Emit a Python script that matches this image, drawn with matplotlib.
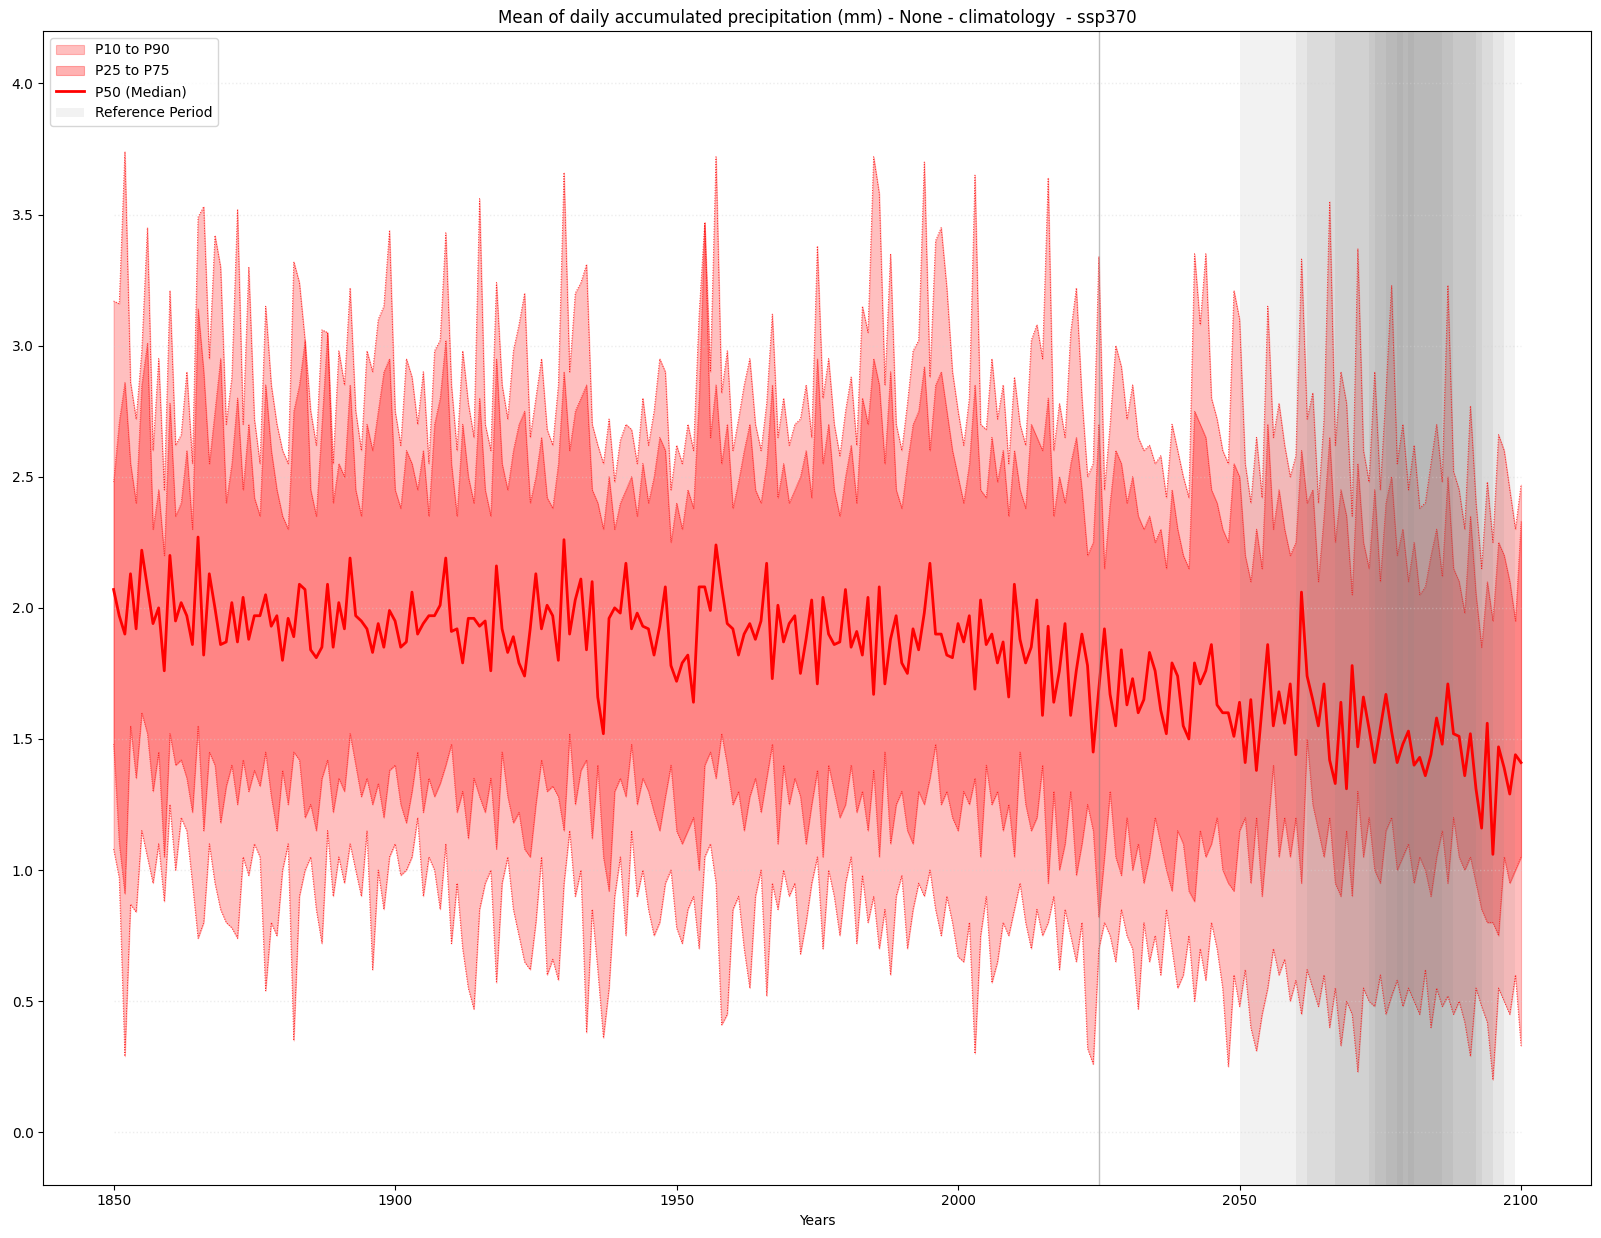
import matplotlib.pyplot as plt
import numpy as np

years = np.arange(1850, 2101)

# median
p50 = [
    2.07, 1.97, 1.90, 2.13, 1.92, 2.22, 2.08, 1.94, 2.00, 1.76,
    2.20, 1.95, 2.02, 1.97, 1.86, 2.27, 1.82, 2.13, 2.00, 1.86,
    1.87, 2.02, 1.87, 2.04, 1.88, 1.97, 1.97, 2.05, 1.93, 1.97,
    1.80, 1.96, 1.89, 2.09, 2.07, 1.84, 1.81, 1.85, 2.09, 1.85,
    2.02, 1.92, 2.19, 1.97, 1.95, 1.92, 1.83, 1.94, 1.85, 1.99,
    1.95, 1.85, 1.87, 2.06, 1.90, 1.94, 1.97, 1.97, 2.01, 2.19,
    1.91, 1.92, 1.79, 1.96, 1.96, 1.93, 1.95, 1.76, 2.16, 1.92,
    1.83, 1.89, 1.79, 1.74, 1.92, 2.13, 1.92, 2.01, 1.97, 1.80,
    2.26, 1.90, 2.03, 2.11, 1.84, 2.10, 1.66, 1.52, 1.96, 2.00,
    1.98, 2.17, 1.92, 1.98, 1.93, 1.92, 1.82, 1.93, 2.08,
    1.78, 1.72, 1.79, 1.82, 1.64, 2.08, 2.08, 1.99, 2.24, 2.08,
    1.94, 1.92, 1.82, 1.90, 1.94, 1.88, 1.95, 2.17, 1.73, 2.01,
    1.87, 1.94, 1.97, 1.75, 1.88, 2.03, 1.71, 2.04, 1.90, 1.86,
    1.87, 2.07, 1.85, 1.91, 1.82, 2.04, 1.67, 2.08, 1.71, 1.88,
    1.97, 1.79, 1.75, 1.92, 1.84, 1.98, 2.17, 1.90, 1.90,
    1.82, 1.81, 1.94, 1.87, 1.97, 1.69, 2.03, 1.86, 1.90, 1.79,
    1.87, 1.66, 2.09, 1.88, 1.79, 1.85, 2.03, 1.59, 1.93, 1.64,
    1.76, 1.94, 1.59, 1.76, 1.90, 1.78, 1.45, 1.69, 1.92, 1.67,
    1.55, 1.84, 1.63, 1.73, 1.60, 1.65, 1.83, 1.76, 1.61, 1.52,
    1.79, 1.74, 1.55, 1.50, 1.79, 1.71, 1.76, 1.86,
    1.63, 1.60, 1.60, 1.51, 1.64, 1.41, 1.65, 1.38, 1.62, 1.86,
    1.55, 1.68, 1.56, 1.71, 1.44, 2.06, 1.74, 1.65, 1.55, 1.71,
    1.42, 1.33, 1.64, 1.31, 1.78, 1.47, 1.66, 1.54, 1.41, 1.54,
    1.67, 1.53, 1.41, 1.48, 1.53, 1.40, 1.43, 1.36, 1.44, 1.58,
    1.48, 1.71, 1.52, 1.51, 1.36, 1.52, 1.31, 1.16, 1.56, 1.06,
    1.47, 1.39, 1.29, 1.44, 1.41,
]

p90 = [
    3.17, 3.16, 3.74, 2.86, 2.72, 2.98, 3.45, 2.60, 2.95, 2.45,
    3.21, 2.62, 2.66, 2.90, 2.55, 3.49, 3.53, 2.95, 3.42, 3.30,
    2.70, 2.88, 3.52, 2.70, 3.30, 2.72, 2.55, 3.15, 2.85, 2.70,
    2.60, 2.55, 3.32, 3.24, 3.02, 2.75, 2.62, 3.06, 3.05, 2.55,
    2.98, 2.85, 3.22, 2.75, 2.60, 2.98, 2.90, 3.10, 3.15, 3.44,
    2.75, 2.62, 2.95, 2.88, 2.70, 2.90, 2.55, 2.98, 3.02, 3.43,
    2.85, 2.60, 2.98, 2.78, 2.65, 3.56, 2.70, 2.60, 3.24, 2.85,
    2.72, 2.98, 3.08, 3.20, 2.65, 2.80, 2.95, 2.68, 2.62, 2.85,
    3.66, 2.90, 3.20, 3.24, 3.31, 2.70, 2.62, 2.55, 2.72, 2.48,
    2.64, 2.70, 2.68, 2.55, 2.80, 2.62, 2.75, 2.95, 2.90, 2.45,
    2.62, 2.55, 2.70, 2.60, 3.12, 3.47, 2.90, 3.72, 2.82, 2.98,
    2.60, 2.72, 2.85, 2.95, 2.70, 2.60, 2.78, 3.12, 2.65, 2.80,
    2.62, 2.70, 2.72, 2.85, 2.65, 3.38, 2.80, 2.95, 2.70, 2.58,
    2.75, 2.88, 2.62, 3.15, 3.05, 3.72, 3.58, 2.85, 3.35, 2.70,
    2.60, 2.78, 2.98, 3.02, 3.70, 2.88, 3.40, 3.45, 3.22, 2.90,
    2.75, 2.62, 2.80, 3.65, 2.70, 2.68, 2.95, 2.72, 2.85, 2.55,
    2.88, 2.70, 2.62, 3.02, 3.08, 2.95, 3.64, 2.60, 2.78, 2.65,
    3.05, 3.22, 2.80, 2.50, 2.55, 3.34, 2.45, 2.70, 3.00, 2.92,
    2.72, 2.85, 2.65, 2.60, 2.62, 2.55, 2.58, 2.42, 2.70, 2.60,
    2.50, 2.42, 3.35, 3.08, 3.35, 2.80, 2.72, 2.60, 2.55, 3.21,
    3.10, 2.55, 2.40, 2.65, 2.42, 3.15, 2.65, 2.78, 2.62, 2.50,
    2.58, 3.33, 2.72, 2.82, 2.40, 2.72, 3.55, 2.62, 2.90, 2.78,
    2.35, 3.37, 2.60, 2.48, 2.90, 2.45, 2.82, 3.23, 2.55, 2.70,
    2.45, 2.62, 2.38, 2.40, 2.55, 2.70, 2.48, 3.23, 2.52, 2.45,
    2.30, 2.77, 2.40, 2.15, 2.48, 2.25, 2.66, 2.60, 2.45, 2.30,
    2.47,
]

p75 = [
    2.48, 2.71, 2.86, 2.55, 2.40, 2.85, 3.01, 2.30, 2.45, 2.20,
    2.78, 2.35, 2.40, 2.60, 2.30, 3.14, 2.90, 2.55, 2.75, 2.95,
    2.40, 2.55, 2.80, 2.45, 2.70, 2.42, 2.35, 2.85, 2.60, 2.45,
    2.35, 2.30, 2.75, 2.85, 3.02, 2.45, 2.35, 2.70, 3.05, 2.40,
    2.55, 2.50, 2.85, 2.45, 2.35, 2.70, 2.60, 2.75, 2.90, 2.95,
    2.45, 2.38, 2.60, 2.55, 2.45, 2.60, 2.35, 2.70, 2.80, 3.02,
    2.55, 2.35, 2.70, 2.50, 2.40, 2.80, 2.45, 2.35, 2.95, 2.55,
    2.45, 2.60, 2.70, 2.75, 2.40, 2.50, 2.65, 2.42, 2.38, 2.55,
    2.90, 2.60, 2.75, 2.80, 2.85, 2.45, 2.40, 2.30, 2.50, 2.30,
    2.40, 2.45, 2.50, 2.35, 2.55, 2.40, 2.50, 2.65, 2.60, 2.25,
    2.40, 2.30, 2.45, 2.38, 2.80, 3.47, 2.65, 2.85, 2.55, 2.70,
    2.38, 2.48, 2.60, 2.70, 2.45, 2.40, 2.55, 2.85, 2.42, 2.55,
    2.40, 2.45, 2.50, 2.60, 2.42, 2.95, 2.55, 2.70, 2.45, 2.35,
    2.50, 2.62, 2.40, 2.80, 2.70, 2.95, 2.85, 2.55, 2.90, 2.45,
    2.38, 2.55, 2.70, 2.75, 2.92, 2.60, 2.85, 2.90, 2.75, 2.60,
    2.50, 2.40, 2.55, 2.85, 2.45, 2.42, 2.65, 2.48, 2.60, 2.35,
    2.60, 2.45, 2.38, 2.70, 2.65, 2.60, 2.80, 2.35, 2.50, 2.40,
    2.55, 2.65, 2.45, 2.20, 2.25, 2.70, 2.15, 2.40, 2.60, 2.55,
    2.40, 2.50, 2.35, 2.30, 2.35, 2.25, 2.30, 2.15, 2.45, 2.30,
    2.20, 2.15, 2.75, 2.70, 2.65, 2.45, 2.40, 2.30, 2.25, 2.55,
    2.50, 2.20, 2.10, 2.30, 2.15, 2.70, 2.30, 2.45, 2.30, 2.20,
    2.25, 2.60, 2.40, 2.45, 2.10, 2.35, 2.65, 2.25, 2.45, 2.35,
    2.05, 2.55, 2.25, 2.15, 2.45, 2.10, 2.40, 2.50, 2.20, 2.30,
    2.10, 2.25, 2.05, 2.08, 2.20, 2.30, 2.12, 2.50, 2.15, 2.10,
    1.98, 2.35, 2.05, 1.85, 2.10, 1.95, 2.25, 2.20, 2.10, 1.95,
    2.33,
]

p25 = [
    1.48, 1.10, 0.91, 1.55, 1.35, 1.60, 1.52, 1.30, 1.45, 1.05,
    1.52, 1.40, 1.42, 1.35, 1.22, 1.55, 1.15, 1.45, 1.40, 1.18,
    1.32, 1.40, 1.25, 1.42, 1.30, 1.38, 1.32, 1.45, 1.28, 1.15,
    1.38, 1.25, 1.45, 1.42, 1.20, 1.25, 1.15, 1.35, 1.42, 1.22,
    1.35, 1.30, 1.52, 1.40, 1.28, 1.35, 1.25, 1.33, 1.20, 1.38,
    1.40, 1.25, 1.18, 1.30, 1.45, 1.22, 1.35, 1.28, 1.33, 1.40,
    1.48, 1.22, 1.30, 1.12, 1.35, 1.28, 1.22, 1.35, 1.08, 1.45,
    1.28, 1.18, 1.22, 1.08, 1.05, 1.25, 1.42, 1.30, 1.32, 1.28,
    1.15, 1.52, 1.25, 1.38, 1.42, 1.12, 1.40, 1.05, 0.92, 1.30,
    1.35, 1.28, 1.48, 1.25, 1.35, 1.30, 1.22, 1.15, 1.28, 1.40,
    1.15, 1.10, 1.15, 1.20, 1.00, 1.40, 1.45, 1.35, 1.52, 1.40,
    1.25, 1.30, 1.15, 1.28, 1.35, 1.22, 1.35, 1.48, 1.10, 1.40,
    1.25, 1.35, 1.28, 1.10, 1.25, 1.38, 1.05, 1.40, 1.30, 1.20,
    1.25, 1.40, 1.22, 1.30, 1.15, 1.38, 1.05, 1.45, 1.10, 1.25,
    1.30, 1.15, 1.10, 1.30, 1.25, 1.35, 1.48, 1.25, 1.30, 1.20,
    1.15, 1.30, 1.25, 1.35, 1.05, 1.40, 1.25, 1.30, 1.15, 1.25,
    1.05, 1.45, 1.25, 1.15, 1.20, 1.40, 0.95, 1.30, 1.00, 1.10,
    1.30, 0.98, 1.10, 1.25, 1.15, 0.82, 1.05, 1.30, 1.05, 0.98,
    1.20, 1.00, 1.10, 0.95, 1.05, 1.20, 1.10, 1.00, 0.92, 1.15,
    1.10, 0.92, 0.88, 1.15, 1.05, 1.10, 1.20, 1.00, 0.95, 0.92,
    1.15, 1.20, 0.95, 1.20, 0.90, 1.15, 1.40, 1.05, 1.20, 1.05,
    1.20, 0.95, 1.50, 1.25, 1.15, 1.05, 1.20, 0.95, 0.90, 1.15,
    0.90, 1.30, 1.05, 1.20, 1.00, 0.95, 1.15, 1.20, 1.00, 1.05,
    1.10, 0.95, 1.05, 1.00, 0.90, 1.05, 1.15, 0.95, 1.20, 1.05,
    1.00, 1.05, 0.95, 0.85, 0.80, 0.80, 0.75, 1.05, 0.95, 1.00,
    1.05,
]

p10 = [
    1.08, 0.97, 0.29, 0.87, 0.84, 1.15, 1.05, 0.95, 1.10, 0.88,
    1.25, 1.00, 1.20, 1.15, 0.95, 0.74, 0.80, 1.10, 0.95, 0.85,
    0.80, 0.78, 0.74, 1.05, 0.98, 1.10, 1.05, 0.54, 0.80, 0.75,
    1.00, 1.10, 0.35, 0.90, 1.00, 1.05, 0.85, 0.72, 1.15, 0.90,
    1.05, 0.95, 1.10, 1.00, 0.90, 1.15, 0.62, 1.00, 0.85, 1.05,
    1.10, 0.98, 1.00, 1.05, 1.20, 0.90, 1.05, 1.00, 0.85, 1.10,
    0.72, 0.95, 0.70, 0.55, 0.47, 0.85, 0.95, 1.00, 0.57, 0.95,
    1.05, 0.85, 0.75, 0.65, 0.62, 0.80, 1.05, 0.60, 0.66, 0.58,
    0.95, 1.15, 0.90, 1.00, 0.38, 0.85, 0.62, 0.36, 0.55, 0.90,
    1.05, 0.75, 1.15, 0.90, 1.00, 0.85, 0.75, 0.80, 0.95, 1.00,
    0.78, 0.72, 0.85, 0.90, 0.70, 1.05, 1.10, 0.95, 0.41, 0.45,
    0.85, 0.90, 0.70, 0.55, 0.90, 1.00, 0.52, 0.95, 0.85, 1.00,
    0.90, 0.95, 0.68, 0.80, 0.95, 1.05, 0.70, 1.00, 0.90, 0.75,
    0.95, 1.05, 0.72, 0.98, 0.80, 0.90, 0.70, 0.85, 0.60, 0.90,
    0.98, 0.70, 0.85, 0.95, 0.90, 1.00, 0.85, 0.75, 0.90, 0.80,
    0.67, 0.65, 0.80, 0.30, 0.75, 0.90, 0.57, 0.65, 0.80, 0.75,
    0.85, 0.95, 0.80, 0.70, 0.85, 0.75, 0.80, 0.90, 0.62, 0.85,
    0.75, 0.65, 0.80, 0.32, 0.26, 0.70, 0.80, 0.75, 0.65, 0.85,
    0.75, 0.70, 0.47, 0.80, 0.65, 0.75, 0.60, 0.85, 0.70, 0.55,
    0.60, 0.75, 0.50, 0.70, 0.58, 0.80, 0.70, 0.55, 0.25, 0.60,
    0.48, 0.62, 0.40, 0.31, 0.45, 0.55, 0.70, 0.60, 0.66, 0.50,
    0.58, 0.45, 0.62, 0.55, 0.48, 0.60, 0.40, 0.55, 0.33, 0.50,
    0.45, 0.23, 0.55, 0.50, 0.48, 0.60, 0.45, 0.52, 0.58, 0.48,
    0.55, 0.50, 0.45, 0.62, 0.40, 0.55, 0.48, 0.52, 0.45, 0.50,
    0.42, 0.29, 0.55, 0.48, 0.42, 0.20, 0.55, 0.50, 0.45, 0.60,
    0.33,
]

# reference periods (20-year windows)
ref_starts = [2050, 2060, 2062, 2067, 2069, 2073, 2074, 2076, 2078, 2080]
ref_ends = [2069, 2079, 2081, 2086, 2088, 2092, 2093, 2095, 2097, 2099]

yticks = [0.0, 0.5, 1.0, 1.5, 2.0, 2.5, 3.0, 3.5, 4.0]
present_year = 2025

fig, ax = plt.subplots(figsize=(16.01, 12.38), dpi=100)

ax.hlines(yticks, years[0], years[-1], colors='lightgray', linestyles=':',
          lw=1, alpha=0.4)

ax.fill_between(years, p10, p90, color='red', alpha=0.25, lw=0.8,
                label='P10 to P90')
ax.fill_between(years, p25, p75, color='red', alpha=0.3, lw=0.8,
                label='P25 to P75')
for band in (p10, p90):
    ax.plot(years, band, color='red', ls=':', lw=0.7, alpha=0.8)
for band in (p25, p75):
    ax.plot(years, band, color='red', ls=':', lw=0.6, alpha=0.7)
ax.plot(years, p50, color='red', lw=2, label='P50 (Median)')

for i, (s, e) in enumerate(zip(ref_starts, ref_ends)):
    ax.axvspan(s, e, color='gray', alpha=0.1, lw=0,
               label='Reference Period' if i == 0 else None)

ax.axvline(present_year, color='gray', alpha=0.5, lw=1)

ax.set_title('Mean of daily accumulated precipitation (mm) - None - climatology  - ssp370')
ax.set_xlabel('Years')
ax.legend(loc='upper left')

fig.subplots_adjust(left=0.027, right=0.994, top=0.975, bottom=0.043)
fig.savefig('out.png', dpi=100)
